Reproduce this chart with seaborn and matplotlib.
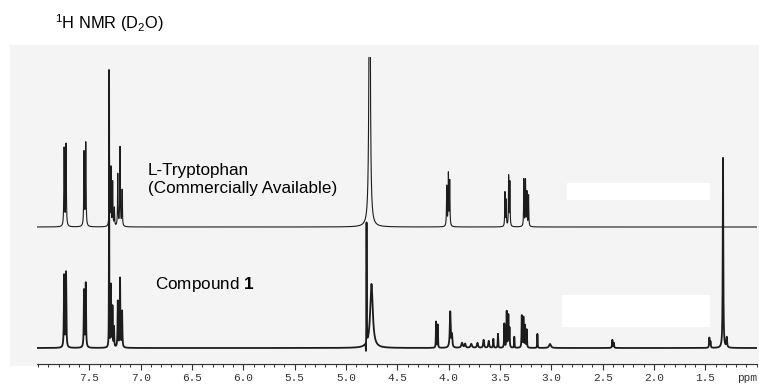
import numpy as np
import pandas as pd
import matplotlib
matplotlib.use("Agg")
import matplotlib.pyplot as plt
from matplotlib.patches import Rectangle
from matplotlib.ticker import FixedLocator, MultipleLocator
import seaborn as sns

# ---------------- data ----------------
# L-Tryptophan (commercial) peak list: position (ppm), height, half-width (ppm)
trp_ppm = [7.746, 7.727, 7.552, 7.535, 7.305, 7.290, 7.273, 7.256,
           7.223, 7.201, 7.181, 4.770,
           4.019, 4.003, 3.990,
           3.452, 3.440, 3.416, 3.404,
           3.268, 3.252, 3.238, 3.222]
trp_height = [78, 82, 74, 83, 78, 58, 44, 18,
              52, 79, 36, 420,
              40, 52, 45,
              34, 26, 50, 44,
              47, 46, 34, 31]
trp_width = [0.0030, 0.0030, 0.0030, 0.0030, 0.0025, 0.0025, 0.0025, 0.0025,
             0.0028, 0.0028, 0.0028, 0.0060,
             0.0028, 0.0028, 0.0028,
             0.0025, 0.0025, 0.0025, 0.0025,
             0.0025, 0.0025, 0.0025, 0.0025]

# Compound 1 peak list
cmp_ppm = [7.746, 7.727, 7.552, 7.535, 7.308, 7.290, 7.275, 7.260,
           7.223, 7.201, 7.181,
           4.800, 4.806, 4.752,
           4.123, 4.107, 3.985, 3.968,
           3.870, 3.840, 3.780, 3.720, 3.660, 3.610, 3.565, 3.520,
           3.458, 3.435, 3.419, 3.408, 3.361,
           3.288, 3.272, 3.256, 3.240, 3.136, 3.013,
           2.406, 2.392, 1.461, 1.450, 1.328, 1.292]
cmp_height = [72, 75, 57, 64, 278, 62, 40, 20,
              46, 69, 36,
              121, -12, 64,
              26, 23, 36, 12,
              5, 4, 4, 5, 8, 7, 9, 14,
              24, 36, 32, 19, 11,
              32, 30, 22, 18, 14, 4,
              8, 5, 10, 6, 190, 10]
cmp_width = [0.0030, 0.0030, 0.0030, 0.0030, 0.0012, 0.0025, 0.0025, 0.0025,
             0.0028, 0.0028, 0.0028,
             0.0012, 0.0015, 0.0150,
             0.0022, 0.0022, 0.0050, 0.0040,
             0.0080, 0.0060, 0.0080, 0.0060, 0.0050, 0.0050, 0.0030, 0.0025,
             0.0025, 0.0025, 0.0025, 0.0025, 0.0020,
             0.0025, 0.0025, 0.0025, 0.0025, 0.0020, 0.0100,
             0.0030, 0.0030, 0.0030, 0.0030, 0.0030, 0.0040]

tick_values = [7.5, 7.0, 6.5, 6.0, 5.5, 5.0, 4.5, 4.0, 3.5, 3.0, 2.5, 2.0, 1.5]
tick_labels = ["7.5", "7.0", "6.5", "6.0", "5.5", "5.0", "4.5", "4.0",
               "3.5", "3.0", "2.5", "2.0", "1.5"]

trace_names = ["L-Tryptophan\n(Commercially Available)", "Compound $\\mathbf{1}$"]

# ---------------- layout constants ----------------
W, H = 759, 388
TRP_BASE = 137      # baseline of upper trace (data units = pixels above axis)
CMP_BASE = 16       # baseline of lower trace
XMIN, XMAX = 8.01, 0.994


def spectrum(x, centers, heights, widths):
    y = np.zeros_like(x)
    for c, h, w in zip(centers, heights, widths):
        y += h * w * w / ((x - c) ** 2 + w * w)
    return y


sns.set_theme(style="white")
plt.rcParams["font.family"] = ["Liberation Sans", "DejaVu Sans"]
plt.rcParams["mathtext.fontset"] = "custom"
plt.rcParams["mathtext.rm"] = "Liberation Sans"
plt.rcParams["mathtext.it"] = "Liberation Sans:italic"
plt.rcParams["mathtext.bf"] = "Liberation Sans:bold"

ppm = np.linspace(XMIN, XMAX, 30000)
df = pd.DataFrame({
    "ppm": np.concatenate([ppm, ppm]),
    "intensity": np.concatenate([
        TRP_BASE + spectrum(ppm, trp_ppm, trp_height, trp_width),
        CMP_BASE + spectrum(ppm, cmp_ppm, cmp_height, cmp_width)]),
    "sample": ["trp"] * len(ppm) + ["cmp"] * len(ppm),
})

fig = plt.figure(figsize=(W / 100, H / 100), dpi=100)
fig.patch.set_facecolor("white")

# scanned-page background (drawn behind the axes)
bg = fig.add_axes([0, 0, 1, 1], zorder=-5)
bg.set_xlim(0, W)
bg.set_ylim(H, 0)
bg.axis("off")
bg.add_patch(Rectangle((10, 45), 749, 321, facecolor="#f4f4f4", edgecolor="none"))
for (x0, y0, x1, y1) in [(567, 183, 710, 200), (562, 295, 710, 327)]:
    bg.add_patch(Rectangle((x0, y0), x1 - x0, y1 - y0, facecolor="white",
                           edgecolor="none"))

ax = fig.add_axes([37 / W, 1 - 364 / H, (757.3 - 37) / W, (364 - 57) / H], zorder=1)
ax.set_facecolor("none")

sns.lineplot(data=df[df["sample"] == "trp"], x="ppm", y="intensity",
             estimator=None, sort=False, color="#1c1c1c", linewidth=0.8, ax=ax)
sns.lineplot(data=df[df["sample"] == "cmp"], x="ppm", y="intensity",
             estimator=None, sort=False, color="#1c1c1c", linewidth=1.3, ax=ax)

ax.set_xlim(XMIN, XMAX)
ax.set_ylim(0, 307)
ax.set_xlabel("")
ax.set_ylabel("")
ax.set_yticks([])
for s in ["top", "left", "right"]:
    ax.spines[s].set_visible(False)
ax.spines["bottom"].set_color("#333333")
ax.spines["bottom"].set_linewidth(0.8)

ax.xaxis.set_major_locator(FixedLocator(tick_values))
ax.set_xticklabels(tick_labels)
ax.xaxis.set_minor_locator(MultipleLocator(0.1))
ax.tick_params(axis="x", which="major", direction="out", length=4, width=0.8,
               color="#333333", pad=2.5, labelsize=8, labelcolor="#333333",
               bottom=True)
ax.tick_params(axis="x", which="minor", direction="out", length=2.2, width=0.7,
               color="#333333", bottom=True)
for lbl in ax.get_xticklabels():
    lbl.set_fontfamily(["Liberation Mono", "DejaVu Sans Mono"])

ax.text(1.0, -0.045, "ppm", transform=ax.transAxes, ha="right", va="center",
        fontsize=8, color="#333333", family=["Liberation Mono", "DejaVu Sans Mono"])

# labels
ax.text(6.928, 364 - 179.5, trace_names[0], ha="left", va="center",
        fontsize=12.3, color="black", linespacing=1.2)
ax.text(6.858, 364 - 285, trace_names[1], ha="left", va="center",
        fontsize=12.3, color="black")

fig.text(55 / W, 1 - 23 / H, r"$^{1}$H NMR (D$_{2}$O)", ha="left", va="center",
         fontsize=11.8, color="black")

fig.savefig("out.png", dpi=100)
